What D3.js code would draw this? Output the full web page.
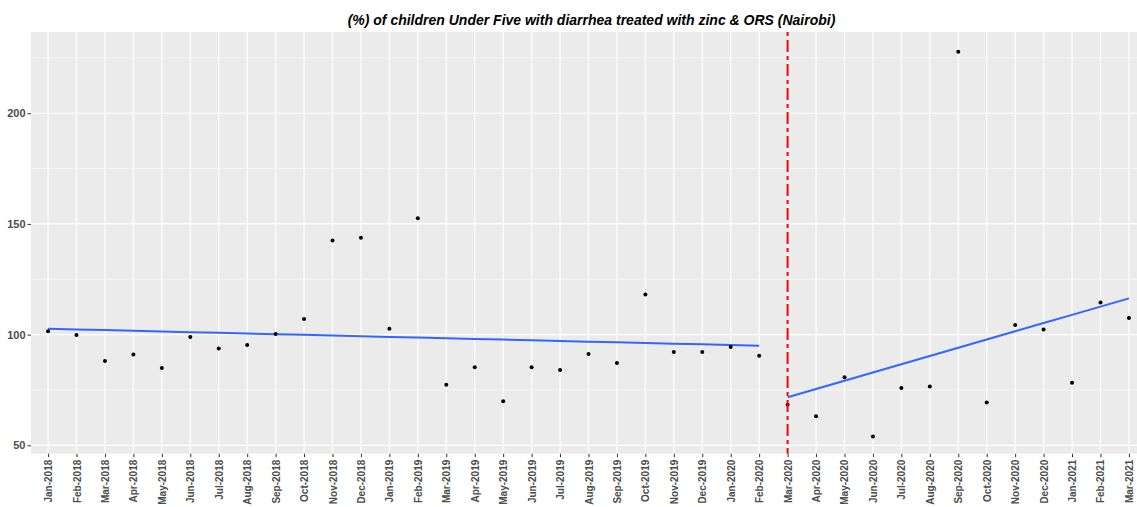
<!DOCTYPE html>
<html>
<head>
<meta charset="utf-8">
<script src="https://cdn.jsdelivr.net/npm/d3@7"></script>
<style>
  body { margin: 0; background: #fff; }
  svg { display: block; font-family: "Liberation Sans", Arial, sans-serif; }
  .tick text { font-weight: bold; fill: #4d4d4d; font-size: 10px; }
  .yax .tick text { font-size: 11px; }
</style>
</head>
<body>
<div id="chart"></div>
<script>
// monthly observations
var months = ["Jan-2018","Feb-2018","Mar-2018","Apr-2018","May-2018","Jun-2018","Jul-2018","Aug-2018",
  "Sep-2018","Oct-2018","Nov-2018","Dec-2018","Jan-2019","Feb-2019","Mar-2019","Apr-2019","May-2019",
  "Jun-2019","Jul-2019","Aug-2019","Sep-2019","Oct-2019","Nov-2019","Dec-2019","Jan-2020","Feb-2020",
  "Mar-2020","Apr-2020","May-2020","Jun-2020","Jul-2020","Aug-2020","Sep-2020","Oct-2020","Nov-2020",
  "Dec-2020","Jan-2021","Feb-2021","Mar-2021"];
var values = [101.5, 99.8, 88.1, 91.0, 84.9, 98.9, 93.7, 95.3,
  100.3, 107.1, 142.5, 143.7, 102.6, 152.6, 77.4, 85.2, 69.9,
  85.2, 84.0, 91.2, 87.2, 118.1, 92.1, 92.1, 94.4, 90.4,
  68.3, 63.1, 80.7, 54.0, 75.9, 76.6, 227.8, 69.3, 104.3,
  102.3, 78.3, 114.5, 107.5];
var interventionMonth = "Mar-2020";
var yTicks = [50, 100, 150, 200];
var yMinor = [75, 125, 175, 225];
var title = "(%) of children Under Five with diarrhea treated with zinc & ORS (Nairobi)";

var W = 1137, H = 507;
var panel = {left: 31, right: 1146, top: 32, bottom: 453.7};

var svg = d3.select("#chart").append("svg")
  .attr("width", W).attr("height", H);

var x = d3.scalePoint().domain(months).range([panel.left, panel.right]).padding(0.6);
var y = d3.scaleLinear().domain([46.2, 236.7]).range([panel.bottom, panel.top]);

// panel background
svg.append("rect")
  .attr("x", panel.left).attr("y", panel.top)
  .attr("width", panel.right - panel.left).attr("height", panel.bottom - panel.top)
  .attr("fill", "#ebebeb");

// grid
svg.selectAll(".yminor").data(yMinor).enter().append("line")
  .attr("x1", panel.left).attr("x2", panel.right)
  .attr("y1", d => y(d)).attr("y2", d => y(d))
  .attr("stroke", "#fff").attr("stroke-width", 0.6);
svg.selectAll(".ymajor").data(yTicks).enter().append("line")
  .attr("x1", panel.left).attr("x2", panel.right)
  .attr("y1", d => y(d)).attr("y2", d => y(d))
  .attr("stroke", "#fff").attr("stroke-width", 1.2);
svg.selectAll(".xmajor").data(months).enter().append("line")
  .attr("x1", d => x(d)).attr("x2", d => x(d))
  .attr("y1", panel.top).attr("y2", panel.bottom)
  .attr("stroke", "#fff").attr("stroke-width", 1.2);

// axes
var yAxis = svg.append("g")
  .attr("class", "yax")
  .attr("transform", "translate(" + panel.left + ",0)")
  .call(d3.axisLeft(y).tickValues(yTicks).tickSize(3.5).tickPadding(2));
yAxis.select(".domain").remove();
yAxis.selectAll(".tick line").attr("stroke", "#333");

var xAxis = svg.append("g")
  .attr("transform", "translate(0," + panel.bottom + ")")
  .call(d3.axisBottom(x).tickSize(3.5));
xAxis.select(".domain").remove();
xAxis.selectAll(".tick line").attr("stroke", "#333");
xAxis.selectAll(".tick text")
  .attr("transform", "rotate(-90)")
  .attr("text-anchor", "end")
  .attr("x", -6).attr("y", 0).attr("dy", "0.35em");

// linear fits for pre and post periods
var cut = months.indexOf(interventionMonth);
function fit(i0, i1) {
  var idx = d3.range(i0, i1);
  var mx = d3.mean(idx), my = d3.mean(idx, i => values[i]);
  var sxy = d3.sum(idx, i => (i - mx) * (values[i] - my));
  var sxx = d3.sum(idx, i => (i - mx) * (i - mx));
  var b = sxy / sxx, a = my - b * mx;
  return idx.map(i => ({m: months[i], v: a + b * i}));
}
var line = d3.line().x(d => x(d.m)).y(d => y(d.v));
[fit(0, cut), fit(cut, months.length)].forEach(function(seg) {
  svg.append("path").datum(seg)
    .attr("d", line)
    .attr("fill", "none")
    .attr("stroke", "#3366ff")
    .attr("stroke-width", 2);
});

// points
svg.selectAll(".pt").data(months).enter().append("circle")
  .attr("cx", d => x(d))
  .attr("cy", (d, i) => y(values[i]))
  .attr("r", 2)
  .attr("fill", "#000");

// intervention line
svg.append("line")
  .attr("x1", x(interventionMonth)).attr("x2", x(interventionMonth))
  .attr("y1", panel.top).attr("y2", panel.bottom)
  .attr("stroke", "#ff0000").attr("stroke-width", 2)
  .attr("stroke-dasharray", "4,4,12,4");

// title
svg.append("text")
  .attr("x", (panel.left + panel.right) / 2 + 3)
  .attr("y", 25)
  .attr("text-anchor", "middle")
  .attr("font-size", "14px")
  .attr("font-weight", "bold")
  .attr("font-style", "italic")
  .attr("fill", "#000")
  .text(title);
</script>
</body>
</html>
